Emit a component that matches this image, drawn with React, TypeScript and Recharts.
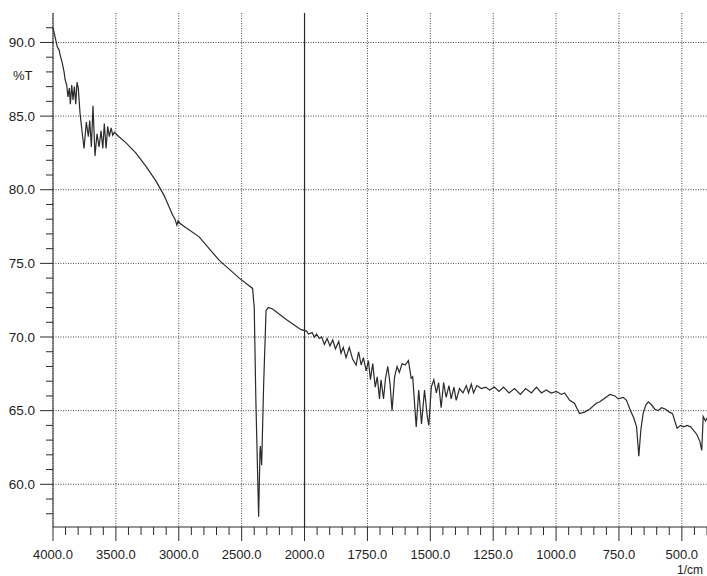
import React from "react";
import { CartesianGrid, Line, LineChart, ReferenceLine, XAxis, YAxis } from "recharts";

// IR spectrum: wavenumber (1/cm) and %T.
// 4000 -> 2000 region
const waveHigh = [
  4000, 3984, 3966, 3952, 3939, 3926, 3912, 3904, 3891, 3881, 3870, 3862, 3851, 3841, 3830, 3819,
  3809, 3799, 3785, 3767, 3753, 3735, 3719, 3708, 3695, 3682, 3666, 3650, 3634, 3618, 3604, 3592,
  3578, 3565, 3552, 3538, 3525, 3512, 3475, 3421, 3342, 3262, 3182, 3116, 3050, 3030, 3015, 3005,
  2990, 2838, 2678, 2519, 2413, 2400, 2387, 2365, 2354, 2351, 2341, 2325, 2306, 2288, 2254, 2148, 2028,
];
const transHigh = [
  91.0, 90.4, 89.7, 89.5, 89.0, 88.6, 88.0, 87.5, 87.1, 86.3, 86.9, 85.8, 87.1, 86.1, 87.0, 85.8,
  87.3, 86.9, 85.2, 83.8, 82.8, 84.6, 83.6, 84.7, 82.9, 85.7, 82.3, 83.8, 82.9, 84.0, 82.8, 84.5,
  82.8, 84.3, 83.6, 84.2, 83.7, 83.9, 83.6, 83.2, 82.5, 81.6, 80.6, 79.6, 78.3, 78.0, 77.6, 77.9,
  77.7, 76.8, 75.2, 74.0, 73.3, 72.0, 65.7, 57.8, 62.3, 62.6, 61.3, 66.8, 71.8, 72.0, 71.9, 71.2, 70.5,
];

// 2000 -> 400 region (axis scale doubles below 2000)
const waveLow = [
  1992, 1984, 1970, 1961, 1952, 1941, 1932, 1921, 1910, 1899, 1888, 1877, 1864, 1855, 1846, 1835,
  1822, 1809, 1795, 1785, 1775, 1766, 1755, 1746, 1738, 1729, 1719, 1711, 1702, 1696, 1686, 1678,
  1669, 1660, 1652, 1642, 1632, 1623, 1612, 1600, 1587, 1576, 1570, 1556, 1546, 1535, 1523, 1512,
  1506, 1496, 1486, 1476, 1467, 1457, 1447, 1437, 1426, 1417, 1406, 1397, 1384, 1370, 1357, 1348,
  1337, 1328, 1315, 1297, 1280, 1264, 1245, 1227, 1209, 1187, 1165, 1142, 1121, 1098, 1078, 1058,
  1039, 1019, 999, 979, 966, 946, 927, 907, 887, 867, 840, 826, 786, 766, 753, 733,
  720, 704, 691, 680, 671, 663, 654, 643, 633, 621, 607, 594, 581, 564, 550, 537,
  528, 519, 505, 492, 479, 465, 455, 441, 428, 421, 415, 406, 400,
];
const transLow = [
  70.4, 70.2, 70.3, 70.0, 70.2, 69.9, 70.0, 69.5, 69.9, 69.4, 69.8, 69.2, 69.7, 68.9, 69.3, 68.6,
  69.3, 68.5, 68.1, 69.0, 68.1, 68.6, 67.7, 68.4, 67.1, 68.2, 66.6, 67.3, 65.8, 67.1, 65.8, 67.2,
  68.0, 66.8, 65.0, 67.3, 68.0, 67.6, 68.2, 68.1, 68.4, 67.2, 67.3, 63.9, 66.4, 64.1, 66.4, 64.6,
  64.0, 66.6, 67.1, 66.2, 66.9, 65.2, 66.9, 65.9, 66.7, 65.8, 66.6, 65.7, 66.5, 66.2, 66.7, 66.2,
  66.8, 66.2, 66.7, 66.5, 66.6, 66.4, 66.6, 66.3, 66.6, 66.2, 66.5, 66.1, 66.5, 66.2, 66.6, 66.2,
  66.4, 66.2, 66.3, 66.1, 66.2, 65.7, 65.5, 64.8, 64.9, 65.1, 65.5, 65.6, 66.1, 66.0, 65.8, 65.9,
  65.7, 65.0, 64.5, 63.9, 61.9, 63.7, 64.8, 65.4, 65.6, 65.4, 65.1, 65.0, 65.2, 65.1, 64.9, 64.8,
  64.3, 63.8, 64.0, 63.9, 64.0, 63.9, 63.7, 63.4, 62.9, 62.3, 64.6, 64.3, 64.5,
];

const xTickLabels = [
  "4000.0", "3500.0", "3000.0", "2500.0", "2000.0", "1750.0", "1500.0", "1250.0", "1000.0", "750.0", "500.0",
];
const yMajorTicks = [60, 65, 70, 75, 80, 85, 90];

// one axis unit = one grid column: 500 1/cm above 2000, 250 1/cm below
function toAxisPos(w: number) {
  return w >= 2000 ? (4000 - w) / 500 : 4 + (2000 - w) / 250;
}

const spectrum = [
  ...waveHigh.map((w, i) => ({ pos: toAxisPos(w), t: transHigh[i] })),
  ...waveLow.map((w, i) => ({ pos: toAxisPos(w), t: transLow[i] })),
];

const xTicks = Array.from({ length: 53 }, (_, i) => Math.round(i * 2) / 10);
const yTicks = Array.from({ length: 34 }, (_, i) => 58 + i);

const font = "'Liberation Sans', Arial, sans-serif";
const ink = "#2a2a2a";

function XTick({ x, y, payload }: any) {
  const v = payload.value;
  const major = Math.abs(v - Math.round(v)) < 1e-6;
  return (
    <g>
      <line x1={x} x2={x} y1={y} y2={y + (major ? 14 : 8)} stroke={ink} />
      {major && (
        <text x={x} y={y + 27} textAnchor="middle" dominantBaseline="central" fontSize={13} fontFamily={font} fill="#222">
          {xTickLabels[Math.round(v)]}
        </text>
      )}
    </g>
  );
}

function YTick({ x, y, payload }: any) {
  const major = yMajorTicks.includes(payload.value);
  return (
    <g>
      <line x1={x - (major ? 13 : 7)} x2={x} y1={y} y2={y} stroke={ink} />
      {major && (
        <text x={x - 18} y={y} textAnchor="end" dominantBaseline="central" fontSize={13.5} fontFamily={font} fill="#222">
          {payload.value.toFixed(1)}
        </text>
      )}
    </g>
  );
}

export default function App() {
  return (
    <div style={{ position: "absolute", left: 0, top: 0, width: 707, height: 576, background: "#fff" }}>
      <LineChart width={707} height={576} data={spectrum} margin={{ top: 13, right: 0, bottom: 0, left: 0 }}>
        <CartesianGrid
          stroke="#444"
          strokeDasharray="1 1.5"
          horizontalValues={yMajorTicks}
          verticalValues={[0, 1, 2, 3, 4, 5, 6, 7, 8, 9, 10]}
        />
        <XAxis
          type="number"
          dataKey="pos"
          domain={[0, 10.4]}
          ticks={xTicks}
          interval={0}
          height={49}
          tickSize={0}
          tickMargin={0}
          tickLine={false}
          axisLine={{ stroke: ink }}
          tick={<XTick />}
        />
        <YAxis
          type="number"
          domain={[57.1, 92]}
          ticks={yTicks}
          interval={0}
          width={53}
          tickSize={0}
          tickMargin={0}
          tickLine={false}
          axisLine={{ stroke: ink }}
          tick={<YTick />}
          allowDataOverflow
        />
        <ReferenceLine x={4} stroke={ink} strokeWidth={1.2} />
        <Line type="linear" dataKey="t" stroke={ink} strokeWidth={1.2} dot={false} isAnimationActive={false} />
      </LineChart>
      <div style={{ position: "absolute", left: 13, top: 68, fontFamily: font, fontSize: 13, color: "#222" }}>%T</div>
      <div style={{ position: "absolute", left: 677, top: 563, fontFamily: font, fontSize: 12, color: "#222" }}>1/cm</div>
    </div>
  );
}
